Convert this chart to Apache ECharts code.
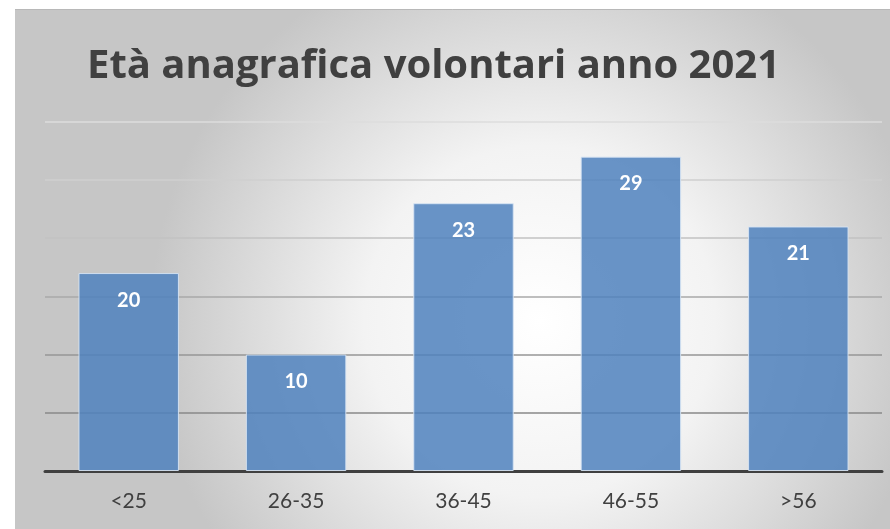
<!DOCTYPE html>
<html>
<head>
<meta charset="utf-8">
<script src="https://cdn.jsdelivr.net/npm/echarts@6/dist/echarts.min.js"></script>
<style>
  html, body { margin: 0; padding: 0; background: #fff; }
  #chart { width: 890px; height: 529px; }
</style>
</head>
<body>
<div id="chart"></div>
<script>
// fasce d'età
const categories = ['<25', '26-35', '36-45', '46-55', '>56'];
const barValues = [17, 10, 23, 27, 21];
// etichette come scritte sulle barre
const barLabels = ['20', '10', '23', '29', '21'];
// griglia: dal basso verso l'alto, più scura in basso
const gridColors = ['#808080', '#888888', '#969696', '#a8a8a8', '#c2c2c2', '#cfcfcf', '#dcdcdc'];

const chart = echarts.init(document.getElementById('chart'));

chart.setOption({
    backgroundColor: '#ffffff',
    animation: false,
    graphic: [
        {
            type: 'rect',
            left: 15,
            top: 9,
            z: -10,
            shape: { width: 875, height: 520 },
            style: {
                fill: new echarts.graphic.RadialGradient(0.6, 0.6, 0.75, [
                    { offset: 0, color: '#ffffff' },
                    { offset: 0.45, color: '#f3f3f3' },
                    { offset: 1, color: '#c6c6c6' },
                ]),
            },
        },
        {
            type: 'line',
            z: -9,
            shape: { x1: 15, y1: 9.5, x2: 890, y2: 9.5 },
            style: { stroke: '#b8b8b8', lineWidth: 1 },
        },
    ],
    title: {
        text: 'Età anagrafica volontari anno 2021',
        left: 82,
        top: 42,
        textStyle: {
            fontFamily: 'Open Sans',
            fontWeight: 'bold',
            fontSize: 40,
            color: '#404040',
        },
    },
    grid: {
        left: 45,
        right: 8,
        top: 121.7,
        bottom: 58,
    },
    xAxis: {
        type: 'category',
        data: categories,
        axisLine: { lineStyle: { color: '#404040', width: 3 } },
        axisTick: { show: false },
        axisLabel: {
            margin: 20,
            fontFamily: 'Lato',
            fontSize: 21,
            color: '#404040',
        },
    },
    yAxis: {
        type: 'value',
        min: 0,
        max: 30,
        interval: 5,
        axisLabel: { show: false },
        axisLine: { show: false },
        axisTick: { show: false },
        splitLine: { lineStyle: { color: gridColors, width: 1.5 } },
    },
    series: [
        {
            type: 'bar',
            data: barValues,
            barCategoryGap: '40%',
            itemStyle: {
                color: 'rgba(79, 129, 189, 0.85)',
                borderColor: 'rgba(215, 228, 244, 0.9)',
                borderWidth: 1,
            },
            label: {
                show: true,
                position: 'insideTop',
                distance: 17,
                formatter: (p) => barLabels[p.dataIndex],
                fontFamily: 'Lato',
                fontWeight: 'bold',
                fontSize: 20,
                color: '#ffffff',
            },
        },
    ],
});
</script>
</body>
</html>
